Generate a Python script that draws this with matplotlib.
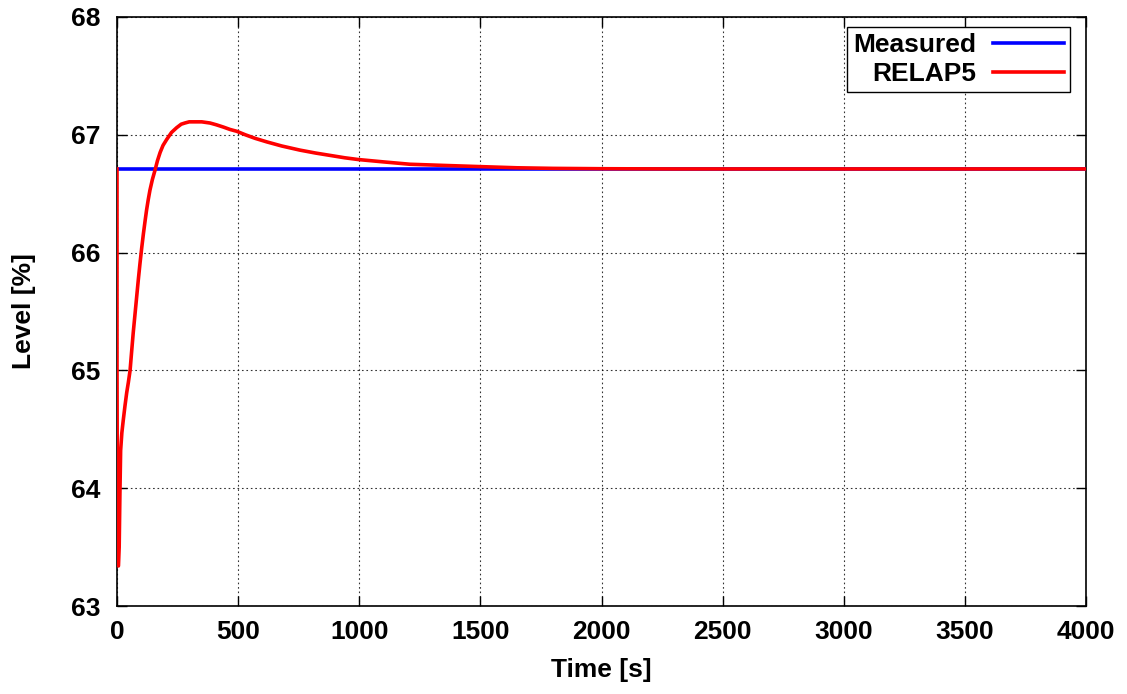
import matplotlib
matplotlib.use("Agg")
import matplotlib.pyplot as plt

plt.rcParams['font.family'] = ['Liberation Sans', 'DejaVu Sans']
plt.rcParams['font.weight'] = 'bold'

# Measured level (constant)
meas_t = [0, 4000]
meas_y = [66.71, 66.71]

# RELAP5 simulated level
sim_t = [0, 0, 1, 3, 6, 9, 12, 15, 20, 26, 33, 40, 47, 54, 60, 67, 74, 81, 88, 95,
         102, 109, 116, 122, 129, 136, 146, 157, 167, 178, 190, 205, 225, 246,
         265, 280, 298, 315, 333, 350, 367, 384, 410, 440, 467, 494, 530, 570,
         618, 680, 755, 820, 880, 940, 996, 1100, 1209, 1350, 1498, 1650, 1800,
         2000, 2300, 2700, 3200, 4000]
sim_y = [66.71, 65.03, 64.2, 63.35, 63.34, 63.5, 63.95, 64.32, 64.47, 64.58, 64.7,
         64.81, 64.9, 65.0, 65.15, 65.32, 65.47, 65.62, 65.77, 65.91, 66.04, 66.16,
         66.27, 66.36, 66.45, 66.53, 66.62, 66.70, 66.78, 66.85, 66.91, 66.96,
         67.02, 67.06, 67.09, 67.10, 67.11, 67.11, 67.11, 67.11, 67.105, 67.10,
         67.085, 67.065, 67.045, 67.03, 67.0, 66.97, 66.94, 66.905, 66.87, 66.845,
         66.825, 66.805, 66.79, 66.77, 66.75, 66.74, 66.73, 66.72, 66.715, 66.712,
         66.71, 66.71, 66.71, 66.71]

xticks = [0, 500, 1000, 1500, 2000, 2500, 3000, 3500, 4000]
yticks = [63, 64, 65, 66, 67, 68]

W, H = 1127, 694
fig = plt.figure(figsize=(W / 100, H / 100), dpi=100)
x0, x1, y0, y1 = 117, 1086, 17, 606
ax = fig.add_axes([x0 / W, 1 - y1 / H, (x1 - x0) / W, (y1 - y0) / H])

ax.plot(meas_t, meas_y, color='#0000ff', lw=2.6, label='Measured', zorder=3)
ax.plot(sim_t, sim_y, color='#ff0000', lw=2.6, label='RELAP5', zorder=4,
        solid_joinstyle='round')

ax.set_xlim(0, 4000)
ax.set_ylim(63, 68)
ax.set_xticks(xticks)
ax.set_yticks(yticks)
ax.tick_params(axis='both', direction='in', length=7, width=1, top=True, right=True,
               labelsize=19)
ax.tick_params(axis='y', pad=12)
ax.tick_params(axis='x', pad=10)
ax.grid(True, color='black', linestyle=(0, (1.5, 2.5)), linewidth=0.8, alpha=0.8)
for s in ax.spines.values():
    s.set_linewidth(1.2)

ax.set_xlabel('Time [s]', fontsize=19, fontweight='bold', labelpad=10)
ax.set_ylabel('Level [%]', fontsize=19, fontweight='bold', labelpad=25)

# legend upper-right corner at pixel (1070, 27)
anchor = ((1070 - x0) / (x1 - x0), (y1 - 27) / (y1 - y0))
leg = ax.legend(loc='upper right', bbox_to_anchor=anchor, borderaxespad=0,
                fontsize=19, markerfirst=False, fancybox=False,
                edgecolor='black', framealpha=1, handlelength=2.7,
                borderpad=0.22, labelspacing=0.2, handletextpad=0.65)
leg.get_frame().set_linewidth(1.0)
for col in leg._legend_handle_box.get_children():
    col.align = 'right'

fig.savefig('out.png', dpi=100)
